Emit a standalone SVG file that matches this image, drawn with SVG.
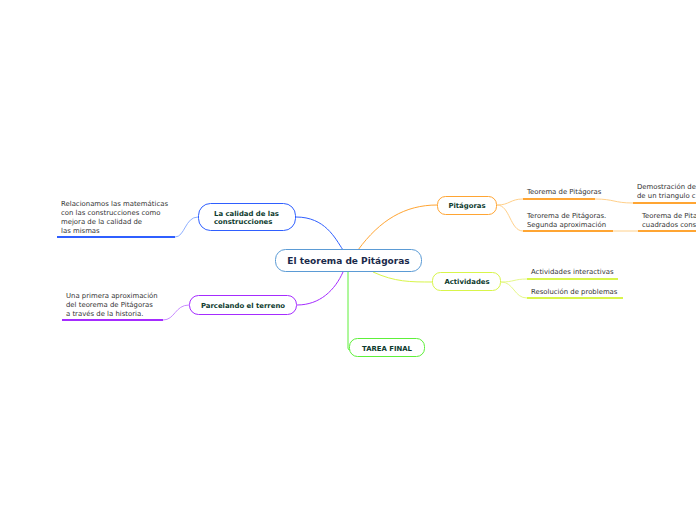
<svg xmlns="http://www.w3.org/2000/svg" width="696" height="520" viewBox="0 0 696 520">
<style>
.node text{font-family:"DejaVu Sans",Verdana,sans-serif;font-weight:bold;fill:#0d3b2e;text-anchor:middle}
.leaf{font-family:"DejaVu Sans",Verdana,sans-serif;font-size:6.9px;fill:#333}
.c{fill:none;stroke-width:1}
.u{fill:none;stroke-width:2}
</style>
<rect width="696" height="520" fill="#fff"/>
<g id="connectors">
<path class="c" d="M296,217 C325,217 335,238 343,250" stroke="#2f5fff"/>
<path class="c" d="M358,250 C380,220 405,205 437,205" stroke="#ffa533"/>
<path class="c" d="M343,272 C335,290 320,305 297,305" stroke="#a52cff"/>
<path class="c" d="M373,272 C395,282 410,282 433,282" stroke="#d8f54a"/>
<path class="c" d="M348,272 L348,348 Q348,350 350,350" stroke="#5ef03a"/>
<path class="c" d="M198,217 C185,217 185,237 175,237" stroke="#8fb0ff"/>
<path class="u" d="M57,237 H175" stroke="#2f5fff"/>
<path class="c" d="M189,305 C175,305 175,320 163,320" stroke="#c88cff"/>
<path class="u" d="M62,320 H163" stroke="#a52cff"/>
<path class="c" d="M497,205 C510,205 510,199 523,199" stroke="#ffd08a"/>
<path class="u" d="M523,199 H595" stroke="#ffa533"/>
<path class="c" d="M497,205 C510,205 510,231 523,231" stroke="#ffd08a"/>
<path class="u" d="M523,231 H613" stroke="#ffa533"/>
<path class="c" d="M595,199 C614,199 614,203 633,203" stroke="#ffd08a"/>
<path class="u" d="M633,203 H696" stroke="#ffa533"/>
<path class="c" d="M613,231 H638" stroke="#ffd08a"/>
<path class="u" d="M638,231 H696" stroke="#ffa533"/>
<path class="c" d="M501,282 C514,282 514,279 527,279" stroke="#e6f88a"/>
<path class="u" d="M527,279 H618" stroke="#d8f54a"/>
<path class="c" d="M501,282 C514,282 514,298 527,298" stroke="#e6f88a"/>
<path class="u" d="M527,298 H623" stroke="#d8f54a"/>
</g>
<g id="central" class="node">
<rect x="275.5" y="249.5" width="146" height="22" rx="10" fill="#fff" stroke="#5b9bd5" stroke-width="1"/>
<text x="348.5" y="264" font-size="9" style="fill:#1a2a4a">El teorema de Pitágoras</text>
</g>
<g id="calidad" class="node">
<rect x="198.5" y="203.5" width="97" height="27" rx="12" fill="#fff" stroke="#2f5fff"/>
<text font-size="6.9" style="text-anchor:start"><tspan x="214" y="216">La calidad de las</tspan><tspan x="214" y="224">construcciones</tspan></text>
</g>
<g id="parcelando" class="node">
<rect x="189.5" y="295.5" width="107" height="19" rx="9" fill="#fff" stroke="#a52cff"/>
<text x="243" y="307.5" font-size="6.9">Parcelando el terreno</text>
</g>
<g id="pitagoras" class="node">
<rect x="437.5" y="196.5" width="59" height="18" rx="8" fill="#fff" stroke="#ffa533"/>
<text x="467" y="208" font-size="6.9">Pitágoras</text>
</g>
<g id="actividades" class="node">
<rect x="432.5" y="272.5" width="68" height="18" rx="8" fill="#fff" stroke="#d8f54a"/>
<text x="467" y="284" font-size="6.9">Actividades</text>
</g>
<g id="tarea" class="node">
<rect x="349.5" y="338.5" width="75" height="18" rx="8" fill="#fff" stroke="#5ef03a"/>
<text x="387" y="350.5" font-size="6.9">TAREA FINAL</text>
</g>
<g id="leaf-calidad">
<text class="leaf"><tspan x="61" y="206">Relacionamos las matemáticas</tspan><tspan x="61" y="215">con las construcciones como</tspan><tspan x="61" y="224">mejora de la calidad de</tspan><tspan x="61" y="233">las mismas</tspan></text>
</g>
<g id="leaf-parcelando">
<text class="leaf"><tspan x="66" y="298">Una primera aproximación</tspan><tspan x="66" y="307">del teorema de Pitágoras</tspan><tspan x="66" y="316">a través de la historia.</tspan></text>
</g>
<g id="leaf-teorema">
<text class="leaf" x="527" y="194">Teorema de Pitágoras</text>
</g>
<g id="leaf-segunda">
<text class="leaf"><tspan x="527" y="218">Terorema de Pitágoras.</tspan><tspan x="527" y="227">Segunda aproximación</tspan></text>
</g>
<g id="leaf-demostracion">
<text class="leaf"><tspan x="637" y="189">Demostración de</tspan><tspan x="637" y="198">de un triangulo c</tspan></text>
</g>
<g id="leaf-cuadrados">
<text class="leaf"><tspan x="642" y="218">Teorema de Pita</tspan><tspan x="642" y="227">cuadrados cons</tspan></text>
</g>
<g id="leaf-interactivas">
<text class="leaf" x="531" y="274">Actividades interactivas</text>
</g>
<g id="leaf-problemas">
<text class="leaf" x="531" y="294">Resolución de problemas</text>
</g>
</svg>
